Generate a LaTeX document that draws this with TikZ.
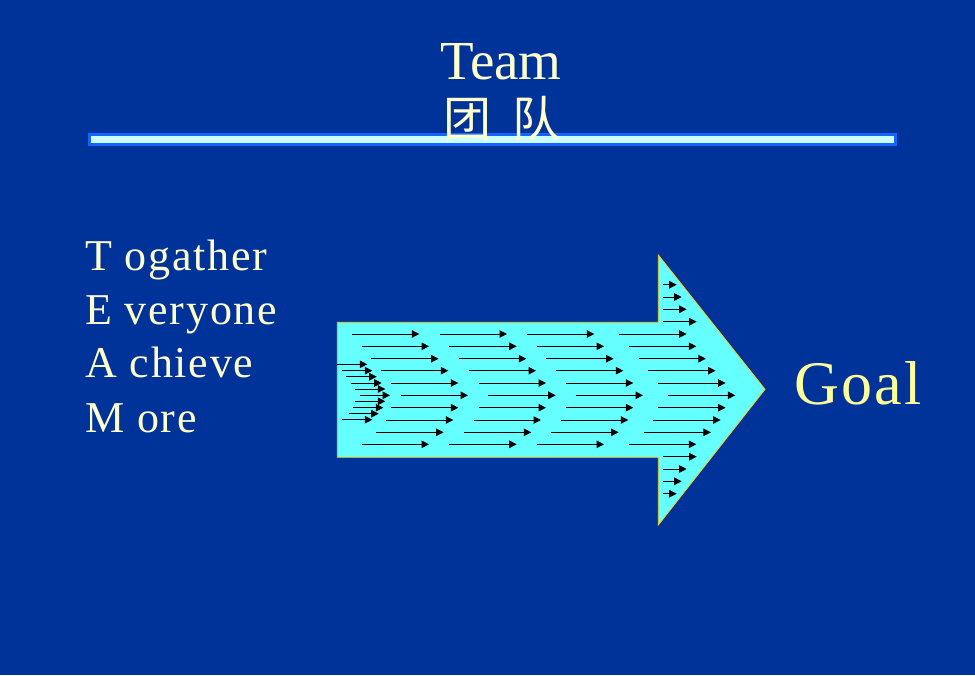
\documentclass[tikz,border=0pt]{standalone}
\usepackage{fontspec}
\setmainfont{Liberation Serif}
\newfontfamily\spaced[LetterSpace=4]{Liberation Serif}
\newfontfamily\cjk{Noto Sans CJK SC}
\usetikzlibrary{arrows.meta}
\definecolor{bgblue}{rgb}{0.0,0.2,0.6}
\definecolor{barblue}{rgb}{0.07,0.4,1.0}
\definecolor{barcyan}{rgb}{0.8,1.0,1.0}
\definecolor{arrcyan}{rgb}{0.4,1.0,1.0}
\definecolor{arrgold}{rgb}{1.0,0.8,0.0}
\definecolor{txtcream}{rgb}{1.0,1.0,0.8}
\definecolor{goalyellow}{rgb}{1.0,1.0,0.6}
\tikzset{
  flow/.style={line width=1pt,-{Triangle[length=7.5pt,width=7.5pt]}},
  word/.style={anchor=base west,inner sep=0pt,text=txtcream,font=\spaced\fontsize{44}{44}\selectfont}
}

\begin{document}
\begin{tikzpicture}[x=1pt,y=-1pt]
    \useasboundingbox (0,0) rectangle (975,675);
    \fill[bgblue] (0,0) rectangle (975,675);
    % title and bar
    \fill[barblue] (88.3,132.7) rectangle (897,145.7);
    \fill[barcyan] (91.3,136) rectangle (894,143.3);
    \node[text=txtcream,font=\fontsize{55}{55}\selectfont,anchor=base] (team) at (501,79) {Team};
    \node[text=txtcream,font=\cjk\fontsize{48}{48}\selectfont,anchor=base] (tuandui) at (502,136) {团\hspace{0.45em}队};
    % big arrow
    \draw[line width=0.8pt,color=arrgold,fill=arrcyan] (337.3,322.3) -- (658.3,322.3) -- (658.3,255) -- (765,389.3) -- (658.3,525) -- (658.3,457.3) -- (337.3,457.3) -- cycle;
    % flow arrows inside the body
    \foreach \y/\s [count=\i] in {334/352,346.3/361.7,358.7/371.3,370.7/381,383/391,395.3/400.7,407.7/391,420/386,432.3/376.3,444.3/361.7}
        \foreach \c in {0,87.7,175,267.3}
            \draw[flow] (\s+\c,\y) -- (\s+\c+67.3,\y);
    % small arrows in the head
    \foreach \y/\e in {284.7/676.7,297/681.7,309.3/686.7,321.7/696.7,456.7/696.7,469/686.7,481.3/681.7,493.7/676.7}
        \draw[flow] (663.3,\y) -- (\e,\y);
    % small arrows at the tail
    \foreach \y/\s/\e in {364.3/337.3/367.3,370.7/342/372.3,376.7/346.3/376.7,383/350.7/381.7,389/355/385.3,395.3/360/390,401.3/355/385.3,407.7/353/383.3,413.7/348.7/378.7,419.7/342/372.3}
        \draw[flow] (\s,\y) -- (\e,\y);
    % words
    \node[word] (together) at (85,270.7) {T ogather};
    \node[word] (everyone) at (85,324.3) {E veryone};
    \node[word] (achieve) at (85,377.7) {A chieve};
    \node[word] (more) at (85,432.7) {M ore};
    \node[anchor=base west,inner sep=0pt,text=goalyellow,font=\spaced\fontsize{62}{62}\selectfont] (goal) at (794,404) {Goal};
\end{tikzpicture}
\end{document}
